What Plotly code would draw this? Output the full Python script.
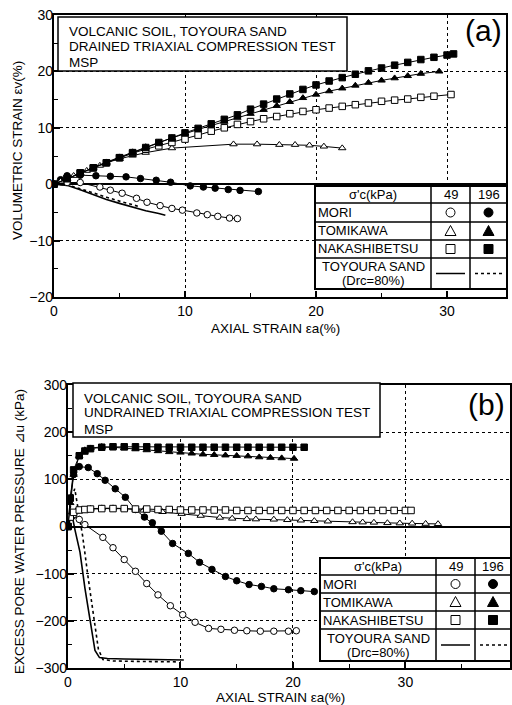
import plotly.graph_objects as go

W, H = 512, 705

# ---------------- DATA: (a) drained, volumetric strain (%) vs axial strain (%) ----------------
a_mori49_x = [0, 1, 2, 3.5, 4.3, 5.2, 6.3, 7.1, 8.1, 9, 9.8, 10.9, 11.7, 12.5, 13.4, 14]
a_mori49_y = [0, 0.3, 0.3, -0.5, -1.06, -1.6, -2.5, -3.2, -3.8, -4.3, -4.6, -5.1, -5.4, -5.7, -6.0, -6.1]
a_mori196_x = [0, 0.5, 1, 2, 3.2, 4.3, 5.5, 6.6, 7.8, 8.9, 10.4, 11.4, 12.3, 13.3, 14.2, 15.6]
a_mori196_y = [0, 0.8, 1.5, 1.6, 1.5, 1.4, 1.3, 1.0, 0.7, 0.35, -0.3, -0.5, -0.7, -0.95, -1.1, -1.3]
a_tomi49_x = [0, 0.5, 1, 1.5, 2, 2.5, 3, 3.5, 4, 5, 6, 7, 9, 13.7, 15.5, 17.2, 18.4, 19.5, 20.6, 22]
a_tomi49_y = [0, 0.5, 1, 1.5, 2, 2.4, 2.9, 3.3, 3.8, 4.5, 5.1, 5.6, 6.4, 7.1, 7.1, 7.0, 7.0, 6.9, 6.7, 6.4]
a_tomi196_x = [0, 1, 2, 3, 4, 5, 6, 7, 8, 9, 10, 11, 12, 13, 14, 15, 16, 17, 18, 19, 20, 21, 22, 23, 24, 25, 26, 27, 28, 29.4]
a_tomi196_y = [0, 1, 2, 3, 3.9, 4.8, 5.7, 6.6, 7.4, 8.2, 9.0, 9.7, 10.4, 11.1, 11.8, 12.5, 13.2, 13.9, 14.6, 15.3,
               15.9, 16.5, 17.0, 17.5, 18.0, 18.4, 18.8, 19.2, 19.6, 20.0]
a_naka49_x = [0, 1, 2, 3, 4, 5, 6, 7, 8, 9, 10, 11, 12, 13, 14, 15, 16, 17, 18, 19, 20, 21, 22, 23, 24, 25, 26, 27, 28, 29, 30.3]
a_naka49_y = [0, 1, 2, 2.9, 3.8, 4.7, 5.5, 6.2, 6.8, 7.4, 8.0, 8.7, 9.4, 10.0, 10.6, 11.1, 11.6, 12.0, 12.5, 12.9,
              13.2, 13.5, 13.8, 14.1, 14.4, 14.7, 14.9, 15.1, 15.4, 15.6, 15.9]
a_naka196_x = [0, 1, 2, 3, 4, 5, 6, 7, 8, 9, 10, 11, 12, 13, 14, 15, 16, 17, 18, 19, 20, 21, 22, 23, 24, 25, 26, 27, 28, 29, 30, 30.5]
a_naka196_y = [0, 1.0, 2.0, 2.9, 3.8, 4.7, 5.6, 6.5, 7.4, 8.2, 9.1, 9.9, 10.7, 11.5, 12.3, 13.3, 14.2, 15.1, 16.0, 16.8,
               17.6, 18.3, 18.9, 19.5, 20.1, 20.6, 21.1, 21.6, 22.1, 22.5, 22.9, 23.1]
a_toy49_x = [0, 1, 2, 3, 4, 5, 6, 7, 8, 8.5]
a_toy49_y = [0, -0.2, -1.0, -1.9, -2.7, -3.4, -4.1, -4.7, -5.2, -5.5]
a_toy196_x = [0, 1, 2, 3, 4, 5, 6, 6.4]
a_toy196_y = [0, -0.1, -0.8, -1.6, -2.3, -3.0, -3.6, -3.9]

# ---------------- DATA: (b) undrained, excess pore water pressure (kPa) vs axial strain (%) ----------------
b_mori49_x = [0, 0.2, 0.5, 1, 1.5, 3.1, 4, 5, 6, 7, 8, 9.1, 10.2, 11.3, 12.5, 13.6, 14.8, 15.9, 17.1, 18.3, 19.6, 20.3]
b_mori49_y = [0, 20, 25, 15, 4, -23, -45, -70, -95, -121, -145, -168, -187, -203, -216, -218, -220, -221, -222, -222, -222, -221]
b_mori196_x = [0, 0.2, 0.5, 1, 1.8, 2.6, 3.3, 4.2, 5.1, 6, 6.8, 7.5, 8.3, 9.3, 10.7, 11.7, 12.8, 14, 15, 16.1,
               17.2, 18.3, 19.6, 20.7, 21.9]
b_mori196_y = [0, 60, 110, 127, 125, 112, 98, 80, 62, 36, 20, 8, -10, -36, -57, -76, -91, -106, -115, -123,
               -127, -132, -134, -136, -138]
b_tomi49_x = [0, 0.3, 0.7, 1.2, 2, 3, 4, 5, 6, 6.7, 8.4, 10.1, 11.8, 13.5, 14.6, 15.9, 16.7, 18.3, 19.5, 20.7,
              21.9, 23.1, 25.3, 26.2, 27.2, 28.4, 29.5, 30.6, 31.8, 32.9]
b_tomi49_y = [0, 20, 32, 36, 38, 39, 39, 38, 36, 34, 31, 27, 23, 19, 17, 16, 15.5, 15, 14, 13,
              12, 11, 9.5, 9, 8.5, 7.5, 7, 6.5, 6, 5.5]
b_tomi196_x = [0, 0.2, 0.5, 1, 1.5, 2, 3, 4, 5, 6, 7, 8, 9, 10, 11, 12, 13, 14, 15, 16, 17, 18, 19, 20.1]
b_tomi196_y = [0, 50, 110, 150, 162, 166, 169, 168, 166, 164, 162, 160, 158, 157, 155, 153, 152, 151, 150, 149,
               147, 146, 145, 144]
b_naka49_x = [0, 0.2, 0.5, 1, 1.5, 2, 3, 4, 5, 6, 7, 8, 9, 10, 11, 12, 13, 14, 15, 16, 17, 18, 19, 20, 21, 22,
              23, 24, 25, 26, 27, 28, 29, 30, 30.5]
b_naka49_y = [0, 20, 30, 35, 36, 37, 38, 38, 38, 37, 37, 36, 36, 35, 35, 35, 35, 35, 34, 34, 34, 34, 34, 34, 34,
              34, 34, 34, 34, 34, 34, 34, 34, 34, 34]
b_naka196_x = [0, 0.2, 0.5, 1, 1.5, 2, 3, 4, 5, 6, 7, 8, 9, 10, 11, 12, 13, 14, 15, 16, 17, 18, 19, 20, 21]
b_naka196_y = [0, 60, 120, 150, 160, 165, 168, 169, 169, 169, 169, 168, 168, 168, 168, 168, 168, 168, 168, 168,
               168, 168, 168, 168, 168]
b_toy49_x = [0, 0.2, 0.4, 0.6, 1.07, 1.5, 2.0, 2.4, 2.8, 3.5, 5, 7, 10.3]
b_toy49_y = [0, 25, 20, -5, -55, -130, -204, -263, -278, -280, -281, -282, -283]
b_toy196_x = [0, 0.3, 0.6, 0.9, 1.3, 1.8, 2.3, 2.7, 3.1, 4, 6, 8, 9.7]
b_toy196_y = [0, 60, 80, 40, -20, -110, -200, -260, -282, -285, -286, -287, -287]

# tick labels
a_xticks = [0, 10, 20, 30]
a_yticks = [-20, -10, 0, 10, 20, 30]
b_xticks = [0, 10, 20, 30, 40]
b_yticks = [-300, -200, -100, 0, 100, 200, 300]

FONT = "Liberation Sans, Arial, sans-serif"

def PX(x):
    return x / W

def PY(y):
    return 1 - y / H

fig = go.Figure()

def series(x, y, symbol, filled, xa, ya, dash="solid", markers=True):
    fig.add_trace(go.Scatter(
        x=x, y=y, xaxis=xa, yaxis=ya,
        mode="lines+markers" if markers else "lines",
        line=dict(color="black", width=1.6 if not markers else 1, dash=dash),
        marker=dict(symbol=symbol, size=6.5, color="black" if filled else "white",
                    line=dict(color="black", width=1)),
        showlegend=False, cliponaxis=True,
    ))

# panel (a)
series(a_toy49_x, a_toy49_y, "circle", True, "x", "y", markers=False)
series(a_toy196_x, a_toy196_y, "circle", True, "x", "y", dash="dot", markers=False)
series(a_mori49_x, a_mori49_y, "circle", False, "x", "y")
series(a_mori196_x, a_mori196_y, "circle", True, "x", "y")
series(a_tomi49_x, a_tomi49_y, "triangle-up", False, "x", "y")
series(a_naka49_x, a_naka49_y, "square", False, "x", "y")
series(a_tomi196_x, a_tomi196_y, "triangle-up", True, "x", "y")
series(a_naka196_x, a_naka196_y, "square", True, "x", "y")

# panel (b)
series(b_toy49_x, b_toy49_y, "circle", True, "x2", "y2", markers=False)
series(b_toy196_x, b_toy196_y, "circle", True, "x2", "y2", dash="dot", markers=False)
series(b_mori49_x, b_mori49_y, "circle", False, "x2", "y2")
series(b_mori196_x, b_mori196_y, "circle", True, "x2", "y2")
series(b_tomi49_x, b_tomi49_y, "triangle-up", False, "x2", "y2")
series(b_naka49_x, b_naka49_y, "square", False, "x2", "y2")
series(b_tomi196_x, b_tomi196_y, "triangle-up", True, "x2", "y2")
series(b_naka196_x, b_naka196_y, "square", True, "x2", "y2")

def minor(d):
    return dict(ticks="inside", ticklen=4, tickwidth=1.2, tickcolor="black", showgrid=False, dtick=d)

def axis_common(standoff):
    return dict(
        showline=True, mirror=True, linewidth=2.2, linecolor="black",
        ticks="inside", ticklen=6, tickwidth=1.5, tickcolor="black",
        showgrid=True, gridcolor="black", gridwidth=1, griddash="dot",
        tickfont=dict(family=FONT, size=14, color="black"),
        automargin=False, ticklabelstandoff=standoff,
    )

xa = axis_common(0); xa.update(domain=[PX(54), PX(506)], range=[0, 34.5], tickvals=a_xticks,
                               minor=minor(5), zeroline=False, anchor="y")
ya = axis_common(-4); ya.update(domain=[PY(297), PY(15)], range=[-20, 30], tickvals=a_yticks,
                                minor=minor(5), zeroline=True, zerolinecolor="black", zerolinewidth=2, anchor="x")
xb = axis_common(0); xb.update(domain=[PX(68), PX(510)], range=[0, 39.3], tickvals=b_xticks,
                               minor=minor(5), zeroline=False, anchor="y2")
yb = axis_common(-4); yb.update(domain=[PY(668), PY(385)], range=[-300, 300], tickvals=b_yticks,
                                minor=minor(50), zeroline=True, zerolinecolor="black", zerolinewidth=2, anchor="x2")

shapes = []
annotations = []

def rect(x0, y0, x1, y1, lw=1.5):
    shapes.append(dict(type="rect", xref="paper", yref="paper", x0=PX(x0), x1=PX(x1), y0=PY(y1), y1=PY(y0),
                       line=dict(color="black", width=lw), fillcolor="white", layer="above"))

def hline(x0, x1, y, lw=1.5, dash="solid"):
    shapes.append(dict(type="line", xref="paper", yref="paper", x0=PX(x0), x1=PX(x1), y0=PY(y), y1=PY(y),
                       line=dict(color="black", width=lw, dash=dash), layer="above"))

def vline(x, y0, y1, lw=1.5):
    shapes.append(dict(type="line", xref="paper", yref="paper", x0=PX(x), x1=PX(x), y0=PY(y0), y1=PY(y1),
                       line=dict(color="black", width=lw), layer="above"))

def text(x, y, s, size=13, xanchor="left", angle=0):
    annotations.append(dict(xref="paper", yref="paper", x=PX(x), y=PY(y), text=s, showarrow=False,
                            xanchor=xanchor, yanchor="middle", textangle=angle,
                            font=dict(family=FONT, size=size, color="black")))

def sym(kind, cx, cy, filled, r=4.5):
    fill = "black" if filled else "white"
    if kind == "circle":
        shapes.append(dict(type="circle", xref="paper", yref="paper", x0=PX(cx - r), x1=PX(cx + r),
                           y0=PY(cy + r), y1=PY(cy - r), line=dict(color="black", width=1), fillcolor=fill, layer="above"))
    elif kind == "square":
        shapes.append(dict(type="rect", xref="paper", yref="paper", x0=PX(cx - r), x1=PX(cx + r),
                           y0=PY(cy + r), y1=PY(cy - r), line=dict(color="black", width=1), fillcolor=fill, layer="above"))
    else:
        path = "M {} {} L {} {} L {} {} Z".format(PX(cx - r - 1), PY(cy + r), PX(cx + r + 1), PY(cy + r), PX(cx), PY(cy - r - 1))
        shapes.append(dict(type="path", xref="paper", yref="paper", path=path,
                           line=dict(color="black", width=1), fillcolor=fill, layer="above"))

def table(cols, rows):
    x0, xa_, xb_, x1 = cols
    rect(x0, rows[0], x1, rows[-1], lw=2)
    for r in rows[1:-1]:
        hline(x0, x1, r, lw=1.5)
    vline(xa_, rows[0], rows[-1], lw=1.5)
    vline(xb_, rows[0], rows[-1], lw=1.5)
    mid = lambda i: (rows[i] + rows[i + 1]) / 2
    cA = (xa_ + xb_) / 2
    cB = (xb_ + x1) / 2
    text((x0 + xa_) / 2, mid(0), "σ'c(kPa)", xanchor="center")
    text(cA, mid(0), "49", xanchor="center")
    text(cB, mid(0), "196", xanchor="center")
    names = ["MORI", "TOMIKAWA", "NAKASHIBETSU"]
    kinds = ["circle", "triangle", "square"]
    for i, (n, k) in enumerate(zip(names, kinds)):
        text(x0 + 1, mid(i + 1), n)
        sym(k, cA, mid(i + 1), False)
        sym(k, cB, mid(i + 1), True)
    m = mid(4)
    text((x0 + xa_) / 2, m - 7, "TOYOURA SAND", xanchor="center")
    text((x0 + xa_) / 2, m + 7, "(Drc=80%)", xanchor="center")
    hline(xa_ + 5, xb_ - 5, m, lw=1.5)
    hline(xb_ + 5, x1 - 4, m, lw=1.5, dash="dot")

# title boxes
rect(58, 17, 347, 71)
text(67, 32, "VOLCANIC SOIL, TOYOURA SAND", size=13.5)
text(67, 47, "DRAINED TRIAXIAL COMPRESSION TEST", size=13.5)
text(67, 62, "MSP", size=13.5)
rect(73, 383, 380, 437)
text(82, 398, "VOLCANIC SOIL, TOYOURA SAND", size=13.5)
text(82, 413, "UNDRAINED TRIAXIAL COMPRESSION TEST", size=13.5)
text(82, 429, "MSP", size=13.5)

# panel labels
text(483, 31, "(a)", size=30, xanchor="center")
text(486, 404, "(b)", size=30, xanchor="center")

# legend tables
table([315, 431, 470, 507], [186, 203, 222, 240, 258, 289])
table([320, 436, 475, 511], [558, 575, 593, 611, 629, 661])

# axis titles
text(275, 328, "AXIAL STRAIN εa(%)", size=13.5, xanchor="center")
text(280, 697, "AXIAL STRAIN εa(%)", size=13.5, xanchor="center")
text(18, 151, "VOLUMETRIC STRAIN εv(%)", size=13.5, xanchor="center", angle=-90)
text(19, 532, "EXCESS PORE WATER PRESSURE ⊿u (kPa)", size=13.5, xanchor="center", angle=-90)

fig.update_layout(
    width=W, height=H, margin=dict(l=0, r=0, t=0, b=0, pad=0), autosize=False,
    paper_bgcolor="white", plot_bgcolor="white",
    xaxis=xa, yaxis=ya, xaxis2=xb, yaxis2=yb,
    shapes=shapes, annotations=annotations, showlegend=False,
    font=dict(family=FONT, color="black"),
)

fig.write_html(
    "out.html",
    config={"displayModeBar": False},
    post_script="document.body.style.margin='0';document.body.style.padding='0';document.body.style.overflow='hidden';document.documentElement.style.overflow='hidden';",
)
